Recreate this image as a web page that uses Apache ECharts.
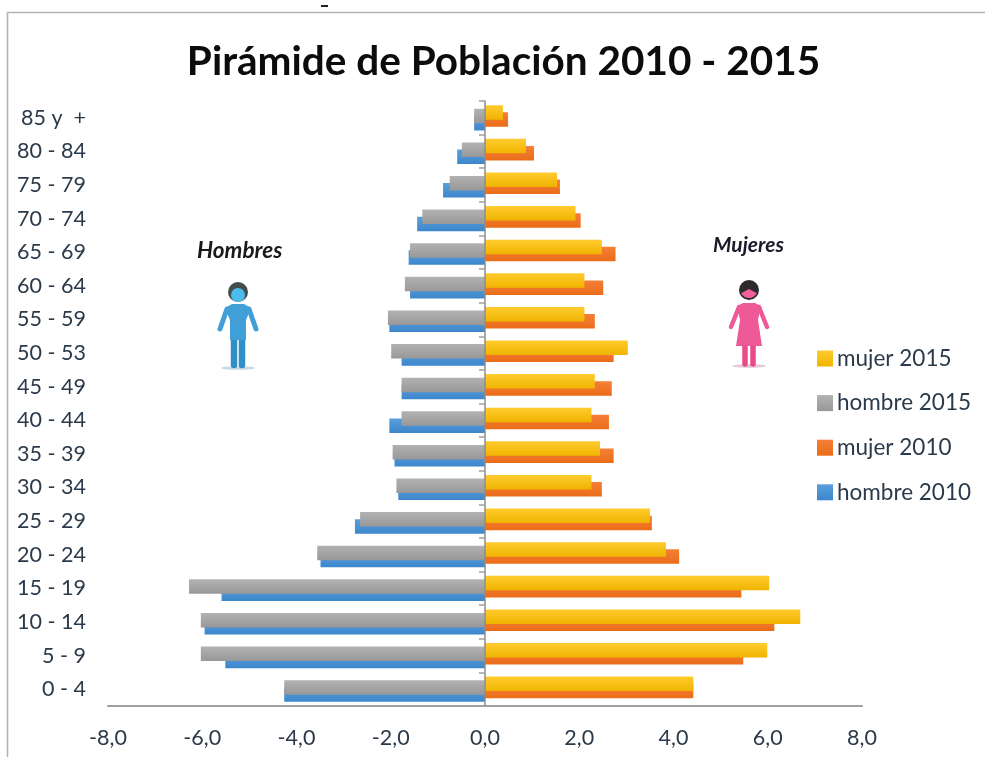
<!DOCTYPE html>
<html><head><meta charset="utf-8">
<style>html,body{margin:0;padding:0;background:#fff}#c{width:985px;height:757px}</style>
<script src="https://cdn.jsdelivr.net/npm/echarts@6/dist/echarts.min.js"></script>
</head><body><div id="c"></div>
<script>
const categories = ['0 - 4','5 - 9','10 - 14','15 - 19','20 - 24','25 - 29','30 - 34','35 - 39','40 - 44','45 - 49','50 - 53','55 - 59','60 - 64','65 - 69','70 - 74','75 - 79','80 - 84','85 y  +'];
const hombre2010 = [-4.26,-5.51,-5.95,-5.59,-3.49,-2.76,-1.84,-1.92,-2.03,-1.77,-1.77,-2.03,-1.59,-1.62,-1.44,-0.89,-0.59,-0.23];
const mujer2010  = [4.42,5.48,6.14,5.44,4.12,3.54,2.48,2.73,2.63,2.69,2.73,2.33,2.51,2.77,2.03,1.59,1.04,0.49];
const hombre2015 = [-4.26,-6.03,-6.03,-6.28,-3.56,-2.65,-1.88,-1.96,-1.77,-1.77,-1.99,-2.06,-1.70,-1.59,-1.33,-0.75,-0.49,-0.23];
const mujer2015  = [4.42,5.99,6.69,6.03,3.84,3.50,2.26,2.44,2.26,2.33,3.03,2.11,2.11,2.48,1.92,1.53,0.87,0.38];
const legendNames = ['mujer 2015','hombre 2015','mujer 2010','hombre 2010'];
const FONT = 'Lato, "Open Sans", sans-serif';
const grad = (a,b) => new echarts.graphic.LinearGradient(0,0,0,1,[{offset:0,color:a},{offset:1,color:b}]);
const bar = (name,data,a,b,z) => ({name,type:'bar',data,barWidth:14.5,barGap:'-75.5%',z,
  itemStyle:{color:grad(a,b)},emphasis:{disabled:true},animation:false});
const limb = (pts,color,w) => ({type:'polyline',shape:{points:pts},style:{stroke:color,lineWidth:w,lineCap:'round',lineJoin:'round',fill:null},silent:true});
const man = (cx,top) => [
  {type:'ellipse',shape:{cx,cy:top+86,rx:17,ry:1.8},style:{fill:'rgba(70,130,170,0.3)'},silent:true},
  limb([[cx-11,top+27],[cx-18,top+47]],'#3f9fd6',5),
  limb([[cx+11,top+27],[cx+18,top+47]],'#3f9fd6',5),
  limb([[cx-4,top+55],[cx-4,top+83]],'#2f8fc6',6.5),
  limb([[cx+4,top+55],[cx+4,top+83]],'#2f8fc6',6.5),
  {type:'polygon',shape:{points:[[cx-6,top+22],[cx+6,top+22],[cx+13,top+26],[cx+8,top+38],[cx+8,top+58],[cx-8,top+58],[cx-8,top+38],[cx-13,top+26]]},style:{fill:'#3f9fd6'},silent:true},
  {type:'circle',shape:{cx,cy:top+10,r:10},style:{fill:'#454c50'},silent:true},
  {type:'circle',shape:{cx,cy:top+13,r:7},style:{fill:'#4cbcec'},silent:true}
];
const woman = (cx,top) => [
  {type:'ellipse',shape:{cx,cy:top+86,rx:17,ry:1.8},style:{fill:'rgba(170,80,110,0.3)'},silent:true},
  limb([[cx-10,top+27],[cx-18,top+47]],'#ee5a97',4.5),
  limb([[cx+10,top+27],[cx+18,top+47]],'#ee5a97',4.5),
  limb([[cx-4,top+60],[cx-4,top+84]],'#e84a8a',5.5),
  limb([[cx+4,top+60],[cx+4,top+84]],'#e84a8a',5.5),
  {type:'polygon',shape:{points:[[cx-6,top+23],[cx+6,top+23],[cx+12,top+26],[cx+9,top+40],[cx+13,top+66],[cx-13,top+66],[cx-9,top+40],[cx-12,top+26]]},style:{fill:'#ee5a97'},silent:true},
  {type:'circle',shape:{cx,cy:top+10,r:10},style:{fill:'#2e2a2c'},silent:true},
  {type:'sector',shape:{cx,cy:top+9,r0:0,r:9,startAngle:0.5,endAngle:Math.PI-0.5},style:{fill:'#f0609c'},silent:true}
];
const chart = echarts.init(document.getElementById('c'),null,{renderer:'canvas'});
chart.setOption({
  animation:false,
  backgroundColor:'#fff',
  title:{text:'Pirámide de Población 2010 - 2015',left:503.5,top:36,textAlign:'center',
    textStyle:{fontFamily:FONT,fontWeight:'bold',fontSize:40.5,color:'#0c0c0c'}},
  grid:{left:108,right:123,top:101,bottom:51,outerBoundsMode:'none'},
  legend:{data:legendNames,orient:'vertical',left:812,top:342,itemWidth:16,itemHeight:16,itemGap:21.6,
    icon:'rect',selectedMode:false,textStyle:{fontFamily:FONT,fontSize:22.5,color:'#2b3a4a',padding:[0,0,0,-1]}},
  xAxis:{type:'value',min:-8,max:8,interval:2,splitLine:{show:false},
    axisLine:{show:true,onZero:false,lineStyle:{color:'#a0a0a0',width:2}},axisTick:{show:false},
    axisLabel:{fontFamily:FONT,fontSize:21.5,color:'#2b3a4a',margin:21,formatter:v=>v.toFixed(1).replace('.',',')}},
  yAxis:{type:'category',data:categories,z:10,
    axisLine:{show:true,onZero:true,lineStyle:{color:'#8c8c8c',width:1.5}},
    axisTick:{show:true,inside:false,length:6,lineStyle:{color:'#a0a0a0',width:1.5}},
    axisLabel:{fontFamily:FONT,fontSize:21.5,color:'#2b3a4a',margin:22,align:'right'}},
  series:[
    bar('mujer 2015',mujer2015,'#ffcb2e','#f0b400',5),
    bar('hombre 2015',hombre2015,'#b2b2b2','#989898',5),
    bar('mujer 2010',mujer2010,'#f58038','#ea6c18',3),
    bar('hombre 2010',hombre2010,'#5a9fdb','#3c86cc',3)
  ],
  graphic:{elements:[
    {type:'rect',shape:{x:7.5,y:12.5,width:985,height:760},style:{fill:null,stroke:'#b4b4b4',lineWidth:1.6},silent:true},
    {type:'rect',shape:{x:321,y:5,width:7,height:2},style:{fill:'#222'},silent:true},
    {type:'text',left:197,top:239,style:{text:'Hombres',fontFamily:FONT,fontStyle:'italic',fontWeight:'bold',fontSize:22.5,fill:'#1a1a1a'},silent:true},
    {type:'text',left:713,top:235,style:{text:'Mujeres',fontFamily:FONT,fontStyle:'italic',fontWeight:'bold',fontSize:21,fill:'#1a1a2a'},silent:true},
    ...man(238,282),...woman(749,280)
  ]}
});
chart.setOption({title:{left:498.5}});
</script></body></html>
